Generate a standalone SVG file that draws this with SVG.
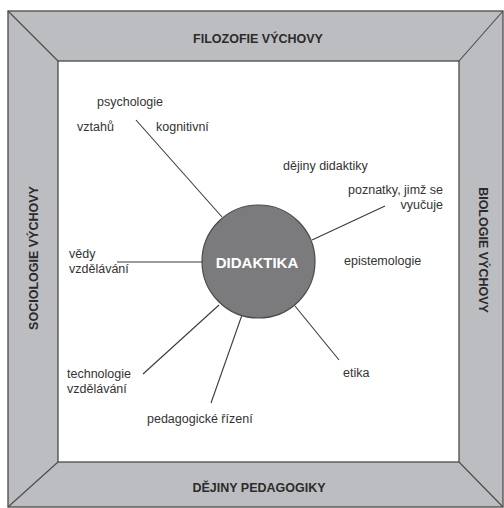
<svg xmlns="http://www.w3.org/2000/svg" width="504" height="508" viewBox="0 0 504 508">
<style>
.frame{fill:#bcbdc0;stroke:#4a4a4a;stroke-width:1.3}
.inner{fill:#ffffff;stroke:#4a4a4a;stroke-width:1.3}
.diag{stroke:#4a4a4a;stroke-width:1.1;fill:none}
.hdr{font-family:"Liberation Sans",Arial,sans-serif;font-weight:bold;font-size:12.5px;fill:#2b2b2b;text-anchor:middle}
.lbl{font-family:"Liberation Sans",Arial,sans-serif;font-size:12.5px;fill:#333333}
.conn line{stroke:#3a3a3a;stroke-width:1.1}
</style>
<rect width="504" height="508" fill="#ffffff"/>
<g id="frame">
<rect class="frame" x="8" y="11" width="495" height="496"/>
<rect class="inner" x="58" y="61" width="401" height="401"/>
<line class="diag" x1="8" y1="11" x2="58" y2="61"/>
<line class="diag" x1="503" y1="11" x2="459" y2="61"/>
<line class="diag" x1="8" y1="507" x2="58" y2="462"/>
<line class="diag" x1="503" y1="507" x2="459" y2="462"/>
</g>
<g id="filozofie"><text class="hdr" x="258" y="43">FILOZOFIE VÝCHOVY</text></g>
<g id="dejiny-pedagogiky"><text class="hdr" x="259" y="492">DĚJINY PEDAGOGIKY</text></g>
<g id="sociologie"><text class="hdr" transform="translate(38,258) rotate(-90)">SOCIOLOGIE VÝCHOVY</text></g>
<g id="biologie"><text class="hdr" transform="translate(479,250) rotate(90)">BIOLOGIE VÝCHOVY</text></g>
<g class="conn" id="connectors">
<line x1="136" y1="120" x2="222" y2="217"/>
<line x1="385" y1="206" x2="312" y2="240"/>
<line x1="117" y1="262" x2="203" y2="262"/>
<line x1="143" y1="374" x2="219" y2="305"/>
<line x1="211" y1="403" x2="242" y2="315"/>
<line x1="295" y1="306" x2="339" y2="360"/>
</g>
<g id="didaktika">
<circle cx="258.5" cy="261.5" r="56.5" fill="#7b7b7d" stroke="#4a4a4a" stroke-width="1.2"/>
<text x="257" y="267.5" font-family="'Liberation Sans',Arial,sans-serif" font-weight="bold" font-size="15" fill="#ffffff" text-anchor="middle">DIDAKTIKA</text>
</g>
<g id="psychologie"><text class="lbl" x="97" y="106">psychologie</text></g>
<g id="vztahu"><text class="lbl" x="77" y="131">vztahů</text></g>
<g id="kognitivni"><text class="lbl" x="156" y="131">kognitivní</text></g>
<g id="dejiny-didaktiky"><text class="lbl" x="283" y="170">dějiny didaktiky</text></g>
<g id="poznatky"><text class="lbl" text-anchor="end"><tspan x="443" y="194">poznatky, jimž se</tspan><tspan x="443" y="209">vyučuje</tspan></text></g>
<g id="epistemologie"><text class="lbl" x="344" y="265">epistemologie</text></g>
<g id="vedy"><text class="lbl"><tspan x="69" y="258">vědy</tspan><tspan x="69" y="273">vzdělávání</tspan></text></g>
<g id="technologie"><text class="lbl"><tspan x="67" y="378">technologie</tspan><tspan x="67" y="393">vzdělávání</tspan></text></g>
<g id="pedagogicke"><text class="lbl" x="147" y="423">pedagogické řízení</text></g>
<g id="etika"><text class="lbl" x="343" y="377">etika</text></g>
</svg>
